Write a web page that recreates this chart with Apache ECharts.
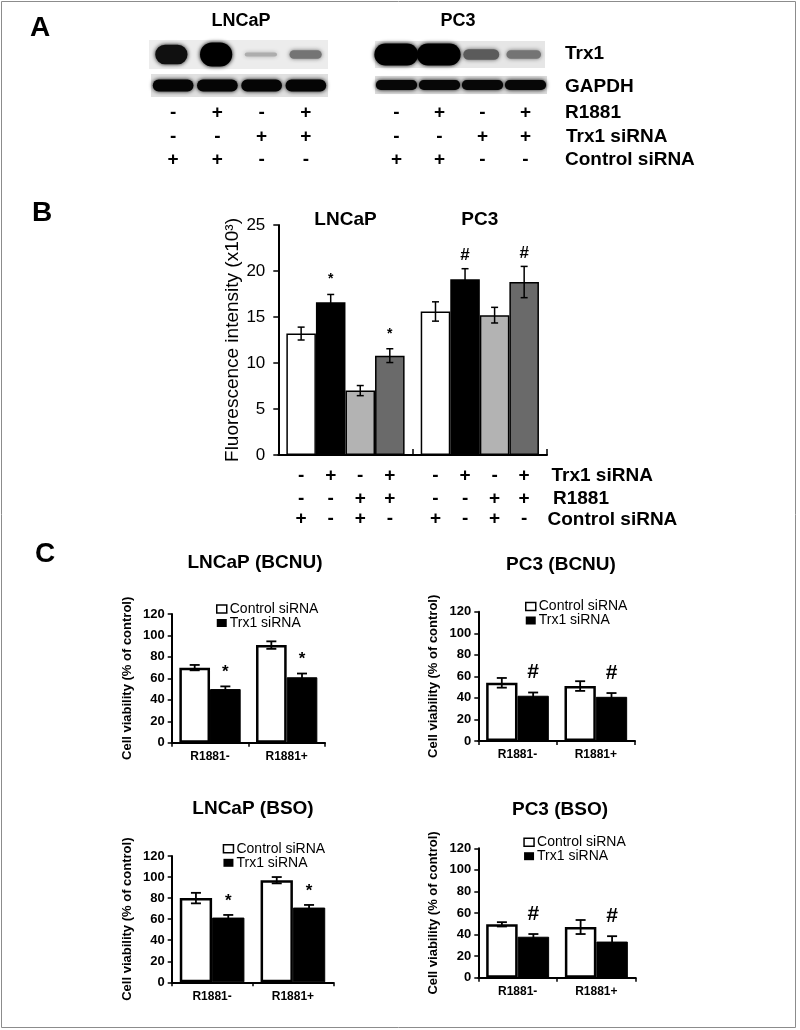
<!DOCTYPE html>
<html>
<head>
<meta charset="utf-8">
<script src="https://cdn.jsdelivr.net/npm/echarts@6/dist/echarts.min.js"></script>
<style>html,body{margin:0;padding:0;background:#fff}#c{width:800px;height:1030px}</style>
</head>
<body>
<div id="c"></div>
<script>
// ---------------- DATA ----------------
// Panel A (western blot band densities, 0..1)
const blotCells = ['LNCaP', 'PC3'];
const lanesA = ['1', '2', '3', '4'];
const trx1LNCaP = [0.8, 1.0, 0.1, 0.3];
const gapdhLNCaP = [0.9, 0.9, 0.9, 0.9];
const trx1PC3 = [1.0, 1.0, 0.4, 0.3];
const gapdhPC3 = [0.88, 0.88, 0.88, 0.88];
const blotNames = ['Trx1', 'GAPDH'];
const rowLabelsA = ['R1881', 'Trx1 siRNA', 'Control siRNA'];
const r1881A = ['-', '+', '-', '+'];
const trxsiA = ['-', '-', '+', '+'];
const ctrlsiA = ['+', '+', '-', '-'];

// Panel B
const cellsB = ['LNCaP', 'PC3'];
const namesB = ['Control siRNA', 'Trx1 siRNA', 'R1881 + Control siRNA', 'R1881 + Trx1 siRNA'];
const meanCtrlB = [13.2, 15.6];
const meanTrxB = [16.6, 19.1];
const meanR1881CtrlB = [7.0, 15.2];
const meanR1881TrxB = [10.8, 18.8];
const errCtrlB = [0.7, 1.05];
const errTrxB = [0.85, 1.15];
const errR1881CtrlB = [0.55, 0.85];
const errR1881TrxB = [0.75, 1.7];
const markTrxB = ['*', '#'];
const markR1881TrxB = ['*', '#'];
const rowLabelsB = ['Trx1 siRNA', 'R1881', 'Control siRNA'];
// per bar, left to right (8 bars)
const trxsiB = ['-', '+', '-', '+', '-', '+', '-', '+'];
const r1881B = ['-', '-', '+', '+', '-', '-', '+', '+'];
const ctrlsiB = ['+', '-', '+', '-', '+', '-', '+', '-'];

// Panel C
const catsC = ['R1881-', 'R1881+'];
const titlesC = ['LNCaP (BCNU)', 'PC3 (BCNU)', 'LNCaP (BSO)', 'PC3 (BSO)'];
const legendC = ['Control siRNA', 'Trx1 siRNA'];
const ctrlC1 = [70, 91], ctrlErrC1 = [2.5, 3.5], trxC1 = [50, 61], trxErrC1 = [2.5, 3.5];
const ctrlC2 = [54, 51], ctrlErrC2 = [4.5, 4.5], trxC2 = [42, 41], trxErrC2 = [3, 3.5];
const ctrlC3 = [80, 97], ctrlErrC3 = [5, 3], trxC3 = [61.5, 71], trxErrC3 = [2.5, 2.5];
const ctrlC4 = [49.5, 47], ctrlErrC4 = [2, 6.5], trxC4 = [38, 33.5], trxErrC4 = [2.5, 5];
const markC = ['*', '#', '*', '#'];
const yTicksC = [0, 20, 40, 60, 80, 100, 120];

// ---------------- STYLE / LAYOUT ----------------
const FONT = '"Liberation Sans", Arial, Helvetica, sans-serif';
const gridsA = [
  {left: 149, top: 40, width: 179, height: 29, bg: '#ececec'},
  {left: 151, top: 74, width: 177, height: 23, bg: '#e0e0e0'},
  {left: 375, top: 41, width: 170, height: 27, bg: '#e6e6e6'},
  {left: 375, top: 76, width: 172, height: 18, bg: '#dcdcdc'}
];
const blotStyle = [
  {wFrac: 0.72, wDens: 0, hMin: 2, hMax: 24},
  {wFrac: 0.92, wDens: 0, hMin: 10, hMax: 12},
  {wFrac: 1.03, wDens: 0.3, hMin: 3, hMax: 22},
  {wFrac: 0.96, wDens: 0, hMin: 9, hMax: 10}
];
const gridB = {left: 278.3, top: 225, width: 268.7, height: 230};
const colorsB = ['#ffffff', '#000000', '#b3b3b3', '#6a6a6a'];
const gridsC = [
  {left: 171.7, top: 614, width: 153.3, height: 128.7, legend: [216, 602], title: [250, 548]},
  {left: 478.3, top: 611.7, width: 156.7, height: 129.3, legend: [525, 599.5], title: [556, 550.5]},
  {left: 171.7, top: 856, width: 161.6, height: 126.3, legend: [222.7, 841.8], title: [248, 794]},
  {left: 478.3, top: 848.3, width: 157.4, height: 129.4, legend: [523.3, 835.2], title: [555, 795.5]}
];

const blotData = [trx1LNCaP, gapdhLNCaP, trx1PC3, gapdhPC3];
const meansB = [meanCtrlB, meanTrxB, meanR1881CtrlB, meanR1881TrxB];
const errsB = [errCtrlB, errTrxB, errR1881CtrlB, errR1881TrxB];
const marksB = [['', ''], markTrxB, ['', ''], markR1881TrxB];
const cData = [
  [ctrlC1, ctrlErrC1, trxC1, trxErrC1],
  [ctrlC2, ctrlErrC2, trxC2, trxErrC2],
  [ctrlC3, ctrlErrC3, trxC3, trxErrC3],
  [ctrlC4, ctrlErrC4, trxC4, trxErrC4]
];

function bandRender(st) {
  return function (params, api) {
    const lane = api.value(0), d = api.value(1);
    const c = api.coord([lane, 0.5]);
    const laneW = api.size([1, 0])[0];
    const w = laneW * st.wFrac * (1 - st.wDens * (1 - d)), h = st.hMin + (st.hMax - st.hMin) * d;
    const lum = Math.round(205 * Math.pow(1 - d, 1.6));
    const col = 'rgb(' + lum + ',' + lum + ',' + lum + ')';
    return {
      type: 'rect',
      shape: {x: c[0] - w / 2, y: c[1] - h / 2, width: w, height: h, r: h / 2},
      style: {fill: col, shadowBlur: 4, shadowColor: col}
    };
  };
}

function errRender(n, frac, capHalf, lw, marks, markStyle, signs, signStyle) {
  return function (params, api) {
    const cat = api.value(0), v = api.value(1), e = api.value(2), s = api.value(3);
    const catW = api.size([1, 0])[0];
    const x = api.coord([cat, 0])[0] + (s - (n - 1) / 2) * frac * catW;
    const yT = api.coord([cat, v + e])[1], yB = api.coord([cat, v - e])[1];
    const st = {stroke: '#000', lineWidth: lw};
    const ch = [
      {type: 'line', shape: {x1: x, y1: yT, x2: x, y2: yB}, style: st},
      {type: 'line', shape: {x1: x - capHalf, y1: yT, x2: x + capHalf, y2: yT}, style: st},
      {type: 'line', shape: {x1: x - capHalf, y1: yB, x2: x + capHalf, y2: yB}, style: st}
    ];
    const m = marks[params.dataIndex];
    if (m) {
      const ms = markStyle[m];
      ch.push({type: 'text', x: x + (ms.dx || 0), y: yT - ms.lift,
        style: {text: m, font: ms.font, fill: '#000', align: 'center', verticalAlign: 'middle'}});
    }
    if (signs) {
      const y0 = api.coord([cat, 0])[1];
      signs[params.dataIndex].forEach(function (t, r) {
        ch.push({type: 'text', x: x, y: y0 + signStyle.offsets[r],
          style: {text: t, font: signStyle.font, fill: '#000', align: 'center', verticalAlign: 'middle'}});
      });
    }
    return {type: 'group', children: ch};
  };
}

// ---------------- BUILD OPTION ----------------
const grid = [], xAxis = [], yAxis = [], series = [], title = [], legend = [];

// Panel A grids
gridsA.forEach(function (g, i) {
  grid.push({left: g.left, top: g.top, width: g.width, height: g.height, show: true,
    backgroundColor: g.bg, borderWidth: 0});
  const showLab = (i === 1 || i === 3);
  xAxis.push({gridIndex: i, type: 'category', data: lanesA,
    axisLine: {show: false}, axisTick: {show: false}, splitLine: {show: false},
    axisLabel: showLab ? {show: true, interval: 0, margin: i === 1 ? 4.5 : 7.5, fontSize: 19,
      fontWeight: 'bold', lineHeight: 23.5, color: '#000', fontFamily: FONT,
      formatter: function (v, idx) { return [r1881A[idx], trxsiA[idx], ctrlsiA[idx]].join('\n'); }} : {show: false}});
  yAxis.push({gridIndex: i, type: 'value', min: 0, max: 1, show: false});
  series.push({type: 'custom', name: blotNames[i % 2] + ' ' + blotCells[i < 2 ? 0 : 1], xAxisIndex: i, yAxisIndex: i,
    data: blotData[i].map(function (d, k) { return [k, d]; }), renderItem: bandRender(blotStyle[i]), silent: true});
});

// Panel B
grid.push({left: gridB.left, top: gridB.top, width: gridB.width, height: gridB.height});
xAxis.push({gridIndex: 4, type: 'category', data: cellsB, position: 'bottom',
  axisLine: {show: true, lineStyle: {color: '#000', width: 2}},
  axisTick: {show: true, inside: true, length: 6, lineStyle: {color: '#000', width: 1.5}},
  axisLabel: {show: false}, splitLine: {show: false}});
xAxis.push({gridIndex: 4, type: 'category', data: cellsB, position: 'top',
  axisLine: {show: false}, axisTick: {show: false},
  axisLabel: {show: true, fontSize: 19, fontWeight: 'bold', color: '#000', margin: -4, fontFamily: FONT}});
yAxis.push({gridIndex: 4, type: 'value', min: 0, max: 25, interval: 5,
  name: 'Fluorescence intensity (x10³)', nameLocation: 'middle', nameGap: 35,
  nameTextStyle: {fontSize: 19, color: '#000', fontFamily: FONT},
  axisLine: {show: true, lineStyle: {color: '#000', width: 2}},
  axisTick: {show: true, length: 5, lineStyle: {color: '#000', width: 1.5}},
  axisLabel: {fontSize: 17, color: '#000', margin: 13, fontFamily: FONT},
  splitLine: {show: false}});
for (let s = 0; s < 4; s++) {
  series.push({type: 'bar', name: namesB[s], xAxisIndex: 4, yAxisIndex: 4, data: meansB[s],
    barWidth: '22%', barGap: '0%',
    itemStyle: {color: colorsB[s], borderColor: '#000', borderWidth: 1.5}});
}
(function () {
  const data = [], marks = [], signs = [];
  for (let s = 0; s < 4; s++) {
    for (let c = 0; c < 2; c++) {
      data.push([c, meansB[s][c], errsB[s][c], s]);
      marks.push(marksB[s][c]);
      const k = c * 4 + s;
      signs.push([trxsiB[k], r1881B[k], ctrlsiB[k]]);
    }
  }
  series.push({type: 'custom', name: 'errB', xAxisIndex: 4, yAxisIndex: 4, data: data, z: 5, silent: true,
    renderItem: errRender(4, 0.22, 3.5, 1.5, marks,
      {'*': {font: 'bold 14px ' + FONT, lift: 15}, '#': {font: 'bold 17px ' + FONT, lift: 13}},
      signs, {font: 'bold 19px ' + FONT, offsets: [21, 43.5, 64]})});
})();

// Panel C
gridsC.forEach(function (g, j) {
  const gi = 5 + j;
  grid.push({left: g.left, top: g.top, width: g.width, height: g.height});
  xAxis.push({gridIndex: gi, type: 'category', data: catsC,
    axisLine: {show: true, lineStyle: {color: '#000', width: 2}},
    axisTick: {show: true, length: 4, lineStyle: {color: '#000', width: 1.5}},
    axisLabel: {fontSize: 12, fontWeight: 'bold', color: '#000', margin: 8, fontFamily: FONT},
    splitLine: {show: false}});
  yAxis.push({gridIndex: gi, type: 'value', min: yTicksC[0], max: yTicksC[yTicksC.length - 1], interval: yTicksC[1] - yTicksC[0],
    name: 'Cell viability (% of control)', nameLocation: 'middle', nameGap: 38,
    nameTextStyle: {fontSize: 13, fontWeight: 'bold', color: '#000', fontFamily: FONT},
    axisLine: {show: true, lineStyle: {color: '#000', width: 2}},
    axisTick: {show: true, length: 4, lineStyle: {color: '#000', width: 1.5}},
    axisLabel: {fontSize: 13, fontWeight: 'bold', color: '#000', margin: 7, fontFamily: FONT},
    splitLine: {show: false}});
  const d = cData[j];
  series.push({type: 'bar', name: legendC[0], xAxisIndex: 6 + j, yAxisIndex: 5 + j, data: d[0],
    barWidth: '40%', barGap: '0%', itemStyle: {color: '#fff', borderColor: '#000', borderWidth: 2.5}});
  series.push({type: 'bar', name: legendC[1], xAxisIndex: 6 + j, yAxisIndex: 5 + j, data: d[2],
    barWidth: '40%', barGap: '0%', itemStyle: {color: '#000', borderColor: '#000', borderWidth: 1}});
  const data = [[0, d[0][0], d[1][0], 0], [1, d[0][1], d[1][1], 0], [0, d[2][0], d[3][0], 1], [1, d[2][1], d[3][1], 1]];
  const marks = ['', '', markC[j], markC[j]];
  series.push({type: 'custom', name: 'errC' + j, xAxisIndex: 6 + j, yAxisIndex: 5 + j, data: data, z: 5, silent: true,
    renderItem: errRender(2, 0.4, 5, 1.8, marks,
      {'*': {font: 'bold 17px ' + FONT, lift: 14}, '#': {font: 'bold 21px ' + FONT, lift: 20}}, null, null)});
  title.push({text: titlesC[j], left: g.title[0], top: g.title[1], textAlign: 'center',
    textStyle: {fontSize: 19, fontWeight: 'bold', color: '#000', fontFamily: FONT}});
  legend.push({left: g.legend[0], top: g.legend[1], orient: 'vertical', itemGap: 0, padding: 0,
    itemWidth: 10, itemHeight: 8, icon: 'rect', selectedMode: false,
    textStyle: {fontSize: 14, color: '#000', lineHeight: 12, fontFamily: FONT, padding: [0, 0, 0, -2]},
    data: [{name: legendC[0], itemStyle: {color: '#fff', borderColor: '#000', borderWidth: 1.5}},
           {name: legendC[1], itemStyle: {color: '#000', borderColor: '#000', borderWidth: 0}}]});
});

function txt(text, x, y, font, align) {
  return {type: 'text', x: x, y: y, silent: true,
    style: {text: text, font: font, fill: '#000', align: align || 'left', verticalAlign: 'middle'}};
}
const BIG = 'bold 28px ' + FONT, LAB = 'bold 19px ' + FONT;
const graphic = [
  {type: 'rect', silent: true, z: -10, shape: {x: 1.5, y: 1.5, width: 794, height: 1026},
    style: {fill: 'none', stroke: '#8c8c8c', lineWidth: 1}},
  txt('A', 40, 28, BIG, 'center'),
  txt('B', 42, 213, BIG, 'center'),
  txt('C', 45, 554, BIG, 'center'),
  txt(blotCells[0], 241, 21, 'bold 18px ' + FONT, 'center'),
  txt(blotCells[1], 458, 21, 'bold 18px ' + FONT, 'center'),
  txt(blotNames[0], 565, 54, LAB),
  txt(blotNames[1], 565, 87, LAB),
  txt(rowLabelsA[0], 565, 113, LAB),
  txt(rowLabelsA[1], 566, 137, LAB),
  txt(rowLabelsA[2], 565, 160, LAB),
  txt(rowLabelsB[0], 551.5, 476, LAB),
  txt(rowLabelsB[1], 553, 499, LAB),
  txt(rowLabelsB[2], 547.5, 520, LAB)
];

const option = {
  animation: false,
  backgroundColor: '#ffffff',
  textStyle: {fontFamily: FONT, color: '#000'},
  title: title,
  legend: legend,
  grid: grid,
  xAxis: xAxis,
  yAxis: yAxis,
  series: series,
  graphic: graphic
};
const chart = echarts.init(document.getElementById('c'), null, {renderer: 'canvas', width: 800, height: 1030});
chart.setOption(option);
</script>
</body>
</html>
